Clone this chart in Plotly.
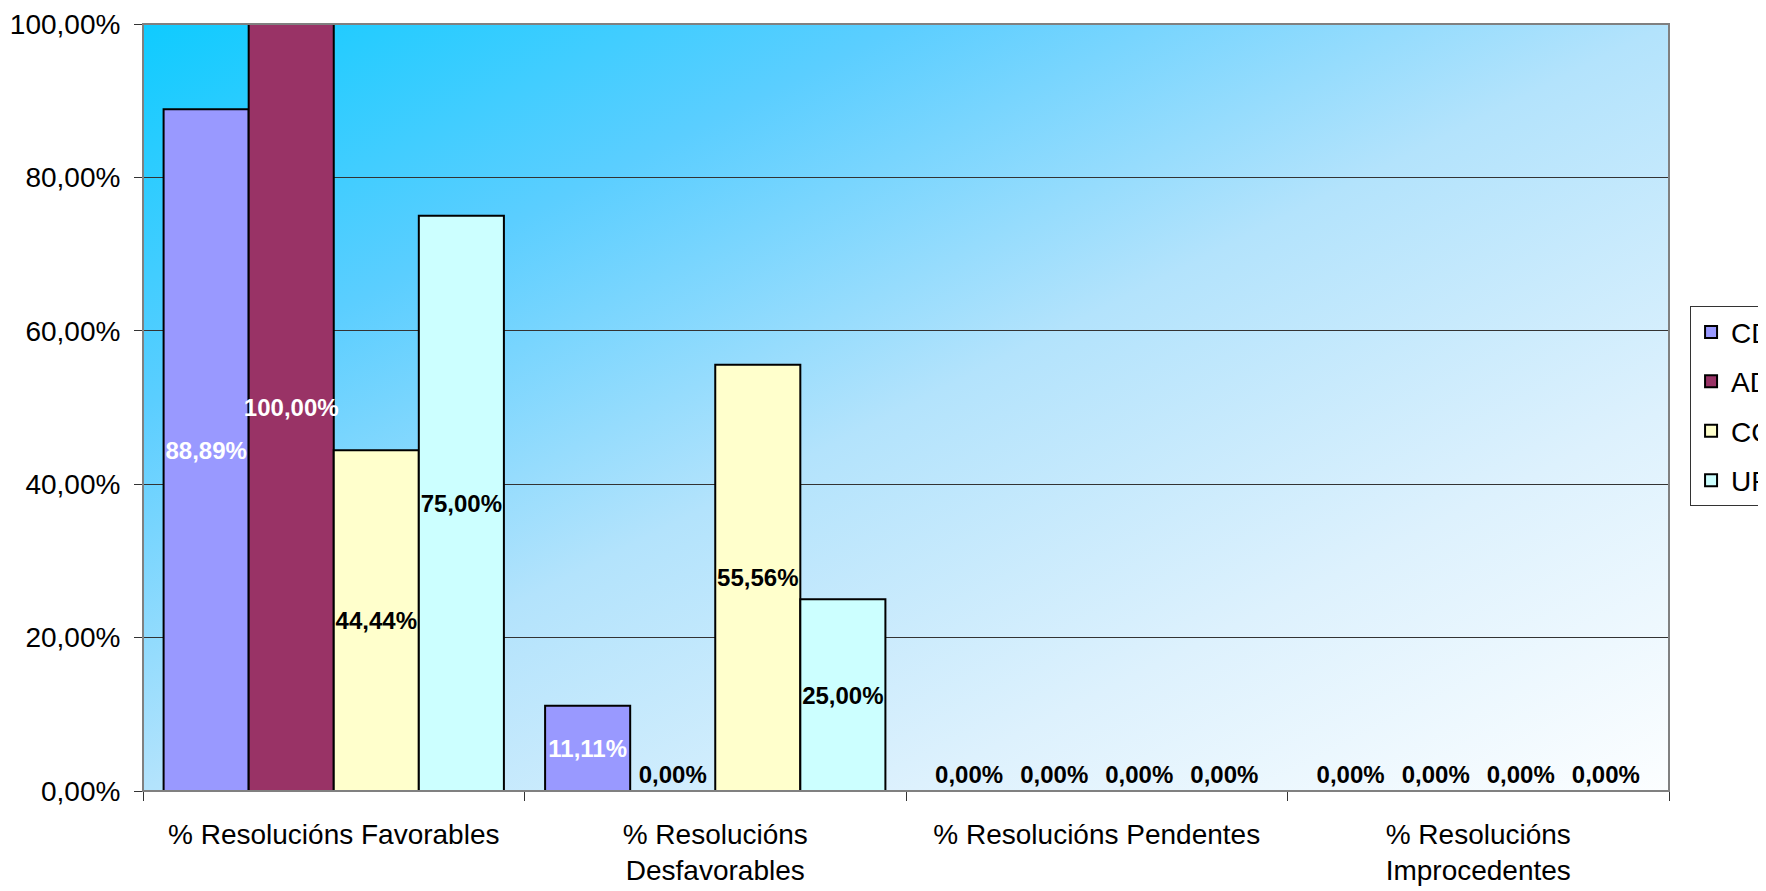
import base64
import plotly.graph_objects as go

categories = ["% Resolucións Favorables", "% Resolucións<br>Desfavorables",
              "% Resolucións Pendentes", "% Resolucións<br>Improcedentes"]
series_names = ["CD", "AD", "CC", "UP"]
cd_values = [0.8889, 0.1111, 0.0, 0.0]
ad_values = [1.0, 0.0, 0.0, 0.0]
cc_values = [0.4444, 0.5556, 0.0, 0.0]
up_values = [0.75, 0.25, 0.0, 0.0]
y_ticks = [0, 0.2, 0.4, 0.6, 0.8, 1.0]

series_values = [cd_values, ad_values, cc_values, up_values]
colors = ["#9999FF", "#993366", "#FFFFCC", "#CCFFFF"]
label_colors = ["white", "white", "black", "black"]

FONT = "Arial, 'Liberation Sans', sans-serif"

fig = go.Figure()
for i, (name, vals) in enumerate(zip(series_names, series_values)):
    fig.add_trace(go.Bar(
        x=categories, y=vals, name=name,
        legendgroup=name,
        marker=dict(color=colors[i], line=dict(color="black", width=2)),
        texttemplate="%{y:.2%}",
        textposition=["inside" if v > 0 else "outside" for v in vals],
        insidetextanchor="middle",
        textangle=0,
        constraintext="none",
        cliponaxis=False,
        insidetextfont=dict(family=FONT, size=24, color=label_colors[i], weight="bold"),
        outsidetextfont=dict(family=FONT, size=24, color="black", weight="bold"),
    ))

svg = """<svg xmlns='http://www.w3.org/2000/svg' width='100' height='100' viewBox='0 0 100 100' preserveAspectRatio='none'>
<defs><linearGradient id='g' x1='0' y1='0' x2='1' y2='1'>
<stop offset='0' stop-color='#0FCBFF'/>
<stop offset='0.25' stop-color='#5BCEFF'/>
<stop offset='0.5' stop-color='#B3E3FC'/>
<stop offset='0.75' stop-color='#DDF1FD'/>
<stop offset='1' stop-color='#FCFEFF'/>
</linearGradient></defs>
<rect x='0' y='0' width='100' height='100' fill='url(#g)'/></svg>"""
svg_uri = "data:image/svg+xml;base64," + base64.b64encode(svg.encode()).decode()

fig.update_layout(
    width=1758, height=883,
    margin=dict(l=135, r=97, t=16, b=100, autoexpand=False),
    paper_bgcolor="white",
    plot_bgcolor="rgba(0,0,0,0)",
    separators=",.",
    barmode="group",
    bargap=0.108,
    bargroupgap=0,
    font=dict(family=FONT, size=28, color="black"),
    showlegend=True,
    legend=dict(
        x=1.0138, xanchor="left", y=0.632, yanchor="top",
        bgcolor="white", bordercolor="#333333", borderwidth=1,
        font=dict(family=FONT, size=28, color="black"),
        tracegroupgap=10, traceorder="grouped",
    ),
    images=[dict(source=svg_uri, xref="paper", yref="paper", x=0, y=1,
                 sizex=1, sizey=1, xanchor="left", yanchor="top",
                 sizing="stretch", layer="below")],
    shapes=[dict(type="rect", xref="paper", yref="paper", x0=0, x1=1, y0=0, y1=1,
                 line=dict(color="#808080", width=2), layer="above")],
)

fig.update_xaxes(
    type="category",
    showline=True, linecolor="black", linewidth=1,
    ticks="outside", tickson="boundaries", ticklen=9, tickcolor="#333333",
    ticklabelstandoff=18,
    showgrid=False,
    tickfont=dict(family=FONT, size=28, color="black"),
)
fig.update_yaxes(
    range=[0, 1],
    tickvals=y_ticks,
    tickformat=".2%",
    showline=True, linecolor="#333333", linewidth=1,
    ticks="outside", ticklen=8, tickcolor="#333333",
    ticklabelstandoff=8,
    showgrid=True, gridcolor="#333333", gridwidth=1,
    zeroline=False,
    tickfont=dict(family=FONT, size=28, color="black"),
)

fig.write_html("out.html")
